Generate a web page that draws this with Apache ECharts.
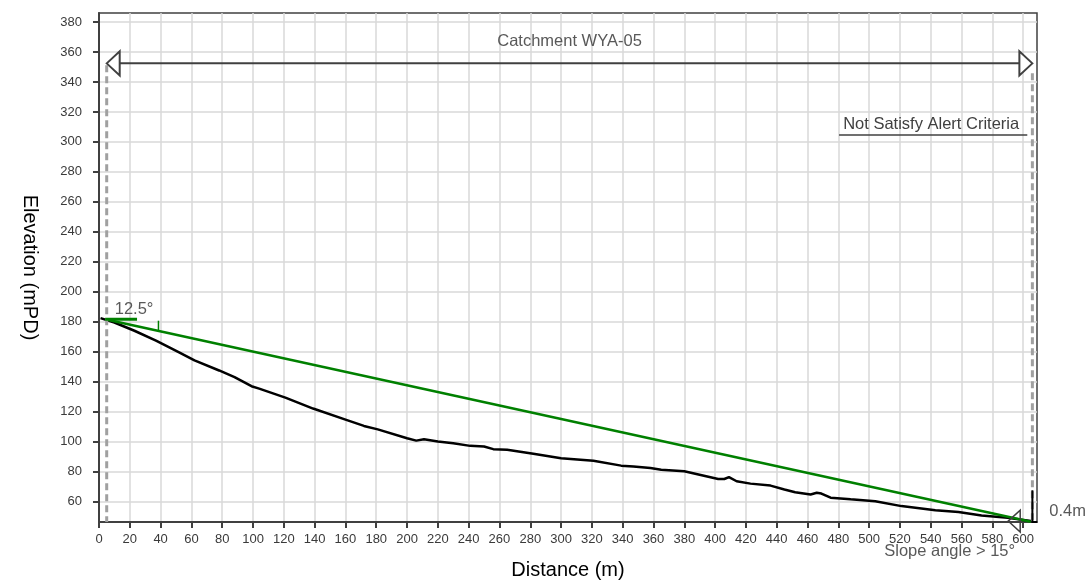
<!DOCTYPE html>
<html><head><meta charset="utf-8">
<script src="https://cdn.jsdelivr.net/npm/echarts@6/dist/echarts.min.js"></script>
<style>html,body{margin:0;padding:0;background:#fff;overflow:hidden;width:100%;height:100%}#c{width:100vw;height:100vh}</style>
</head><body><div id="c"></div>
<script>
// ---- data ----
const xTicks = [0,20,40,60,80,100,120,140,160,180,200,220,240,260,280,300,320,340,360,380,400,420,440,460,480,500,520,540,560,580,600];
const yTicks = [60,80,100,120,140,160,180,200,220,240,260,280,300,320,340,360,380];
const xRange = [0, 609];
const yRange = [46.4, 386];

const profileDist = [1,10,23,37,45,52,62,78,88,99,104,121,139,161,172,181,200,206,211,220,230,241,250,256,265,282,300,321,339,347,358,365,380,402,406,409,414,423,436,445,452,462,466,469,475,488,504,521,543,558,573,590,605];
const profileElev = [182.4,179.5,174,167.4,163.2,159.5,154.2,147.5,143.1,137,135.4,129.4,122.1,114.4,110.5,108.2,102.3,100.7,101.6,100.1,99,97.2,96.8,95,94.6,91.9,89,87.3,84,83.5,82.4,81.3,80.2,75.1,75.1,76.4,73.6,72,70.7,68.1,66.3,64.8,65.9,65.4,62.6,61.5,60.3,57,54.2,53,50.8,49.2,47];

const slopeDist = [4, 605];
const slopeElev = [181.7, 46.6];

const catchmentDist = [5, 606];      // extent of catchment arrow
const catchmentLevel = 352.4;
const catchmentLabel = 'Catchment WYA-05';
const catchmentLabelPos = [305.5, 367.2];

const alertLabel = 'Not Satisfy Alert Criteria';
const alertLabelPos = [540.3, 311.5];
const alertUnderlineDist = [480.5, 602.7];
const alertUnderlineElev = 304.6;

const angleLabel = '12.5°';
const angleLabelPos = [22.8, 188.3];
const angleRefDist = [4, 24.7];
const angleTickDist = 38.6;
const angleTickElev = [173.9, 180.7];

const heightDist = 606;
const heightElev = [67.6, 46.4];
const heightLabel = '0.4m';
const heightLabelPos = [617, 53.7];

const slopeCritLabel = 'Slope angle > 15°';
const slopeCritPos = [552.3, 26.8];
const slopeMarkerPos = [590.3, 47];

// ---- chart ----
const FONT = '"Liberation Sans", Arial, sans-serif';
const chart = echarts.init(document.getElementById('c'), null, {renderer: 'canvas'});

function renderAnn(params, api) {
  const c = (d, e) => api.coord([d, e]);
  const ch = [];
  const dashStyle = {stroke: '#a0a0a0', lineWidth: 3, lineDash: [7, 4]};
  let p0 = c(catchmentDist[0], catchmentLevel), p1 = c(catchmentDist[0], yRange[0]);
  ch.push({type: 'line', shape: {x1: p0[0], y1: p0[1] + 2, x2: p1[0], y2: p1[1]}, style: dashStyle});
  p0 = c(catchmentDist[1], catchmentLevel); p1 = c(catchmentDist[1], yRange[0]);
  ch.push({type: 'line', shape: {x1: p0[0], y1: p0[1] + 10, x2: p1[0], y2: p1[1]}, style: dashStyle});
  const a0 = c(catchmentDist[0], catchmentLevel), a1 = c(catchmentDist[1], catchmentLevel);
  const hw = 13, hh = 12;
  ch.push({type: 'line', shape: {x1: a0[0] + hw, y1: a0[1], x2: a1[0] - hw, y2: a1[1]}, style: {stroke: '#404040', lineWidth: 2}});
  ch.push({type: 'polygon', shape: {points: [[a0[0], a0[1]], [a0[0] + hw, a0[1] - hh], [a0[0] + hw, a0[1] + hh]]}, style: {fill: '#fff', stroke: '#404040', lineWidth: 2}});
  ch.push({type: 'polygon', shape: {points: [[a1[0], a1[1]], [a1[0] - hw, a1[1] - hh], [a1[0] - hw, a1[1] + hh]]}, style: {fill: '#fff', stroke: '#404040', lineWidth: 2}});
  const t0 = c(catchmentLabelPos[0], catchmentLabelPos[1]);
  ch.push({type: 'text', x: t0[0], y: t0[1], style: {text: catchmentLabel, fill: '#595959', fontSize: 16.5, fontFamily: FONT, align: 'center', verticalAlign: 'middle'}});
  const t1 = c(alertLabelPos[0], alertLabelPos[1]);
  ch.push({type: 'text', x: t1[0], y: t1[1], style: {text: alertLabel, fill: '#404040', fontSize: 16.5, fontFamily: FONT, align: 'center', verticalAlign: 'middle'}});
  const u0 = c(alertUnderlineDist[0], alertUnderlineElev), u1 = c(alertUnderlineDist[1], alertUnderlineElev);
  ch.push({type: 'line', shape: {x1: u0[0], y1: u0[1], x2: u1[0], y2: u1[1]}, style: {stroke: '#404040', lineWidth: 1.5}});
  const g0 = c(angleRefDist[0], slopeElev[0]), g1 = c(angleRefDist[1], slopeElev[0]);
  ch.push({type: 'line', shape: {x1: g0[0], y1: g0[1], x2: g1[0], y2: g1[1]}, style: {stroke: '#008000', lineWidth: 3}});
  const k0 = c(angleTickDist, angleTickElev[0]), k1 = c(angleTickDist, angleTickElev[1]);
  ch.push({type: 'line', shape: {x1: k0[0], y1: k0[1], x2: k1[0], y2: k1[1]}, style: {stroke: '#008000', lineWidth: 1.5}});
  const t2 = c(angleLabelPos[0], angleLabelPos[1]);
  ch.push({type: 'text', x: t2[0], y: t2[1], style: {text: angleLabel, fill: '#595959', fontSize: 16.5, fontFamily: FONT, align: 'center', verticalAlign: 'middle'}});
  const h0 = c(heightDist, heightElev[0]), h1 = c(heightDist, heightElev[1]), h2 = c(xRange[1], heightElev[1]);
  ch.push({type: 'polyline', shape: {points: [h0, h1, h2]}, style: {stroke: '#000', lineWidth: 2, fill: null}});
  const t3 = c(heightLabelPos[0], heightLabelPos[1]);
  ch.push({type: 'text', x: t3[0], y: t3[1], style: {text: heightLabel, fill: '#595959', fontSize: 16.5, fontFamily: FONT, align: 'left', verticalAlign: 'middle'}});
  const m = c(slopeMarkerPos[0], slopeMarkerPos[1]);
  ch.push({type: 'polygon', shape: {points: [[m[0], m[1]], [m[0] + 12, m[1] - 11], [m[0] + 12, m[1] + 11]]}, style: {fill: null, stroke: '#404040', lineWidth: 1.5}});
  const t4 = c(slopeCritPos[0], slopeCritPos[1]);
  ch.push({type: 'text', x: t4[0], y: t4[1], style: {text: slopeCritLabel, fill: '#595959', fontSize: 16.5, fontFamily: FONT, align: 'center', verticalAlign: 'middle'}});
  return {type: 'group', children: ch};
}

const option = {
  animation: false,
  backgroundColor: '#fff',
  grid: {left: 99, right: 50, top: 13, bottom: 59, show: true, borderColor: '#404040', borderWidth: 1.5, backgroundColor: 'transparent'},
  xAxis: {
    type: 'value', min: xRange[0], max: xRange[1],
    name: 'Distance (m)', nameLocation: 'middle', nameGap: 38,
    nameTextStyle: {color: '#000', fontSize: 20, fontFamily: FONT},
    axisLine: {show: true, onZero: false, lineStyle: {color: '#404040', width: 2}},
    axisTick: {show: true, length: 6, customValues: xTicks, lineStyle: {color: '#404040', width: 2}},
    axisLabel: {customValues: xTicks, color: '#3a3a3a', fontSize: 13, fontFamily: FONT, margin: 11},
    splitLine: {show: true, lineStyle: {color: '#d9d9d9', width: 1.5}}
  },
  yAxis: {
    type: 'value', min: yRange[0], max: yRange[1],
    name: 'Elevation (mPD)', nameLocation: 'middle', nameGap: 59, nameRotate: -90,
    nameTextStyle: {color: '#000', fontSize: 20, fontFamily: FONT},
    axisLine: {show: true, onZero: false, lineStyle: {color: '#404040', width: 2}},
    axisTick: {show: true, length: 6, customValues: yTicks, lineStyle: {color: '#404040', width: 2}},
    axisLabel: {customValues: yTicks, color: '#3a3a3a', fontSize: 13, fontFamily: FONT, margin: 17},
    splitLine: {show: true, lineStyle: {color: '#d9d9d9', width: 1.5}}
  },
  series: [
    {type: 'line', name: 'Profile', data: profileDist.map((d, i) => [d, profileElev[i]]), showSymbol: false, symbol: 'none',
     lineStyle: {color: '#000', width: 2.5}, z: 3},
    {type: 'line', name: 'Slope', data: slopeDist.map((d, i) => [d, slopeElev[i]]), showSymbol: false, symbol: 'none',
     lineStyle: {color: '#008000', width: 2.5}, z: 4},
    {type: 'custom', name: 'Annotations', data: [[0, 0]], renderItem: renderAnn, clip: false, silent: true, z: 5}
  ]
};
chart.setOption(option);
window.addEventListener('resize', () => chart.resize());
</script>
</body></html>
